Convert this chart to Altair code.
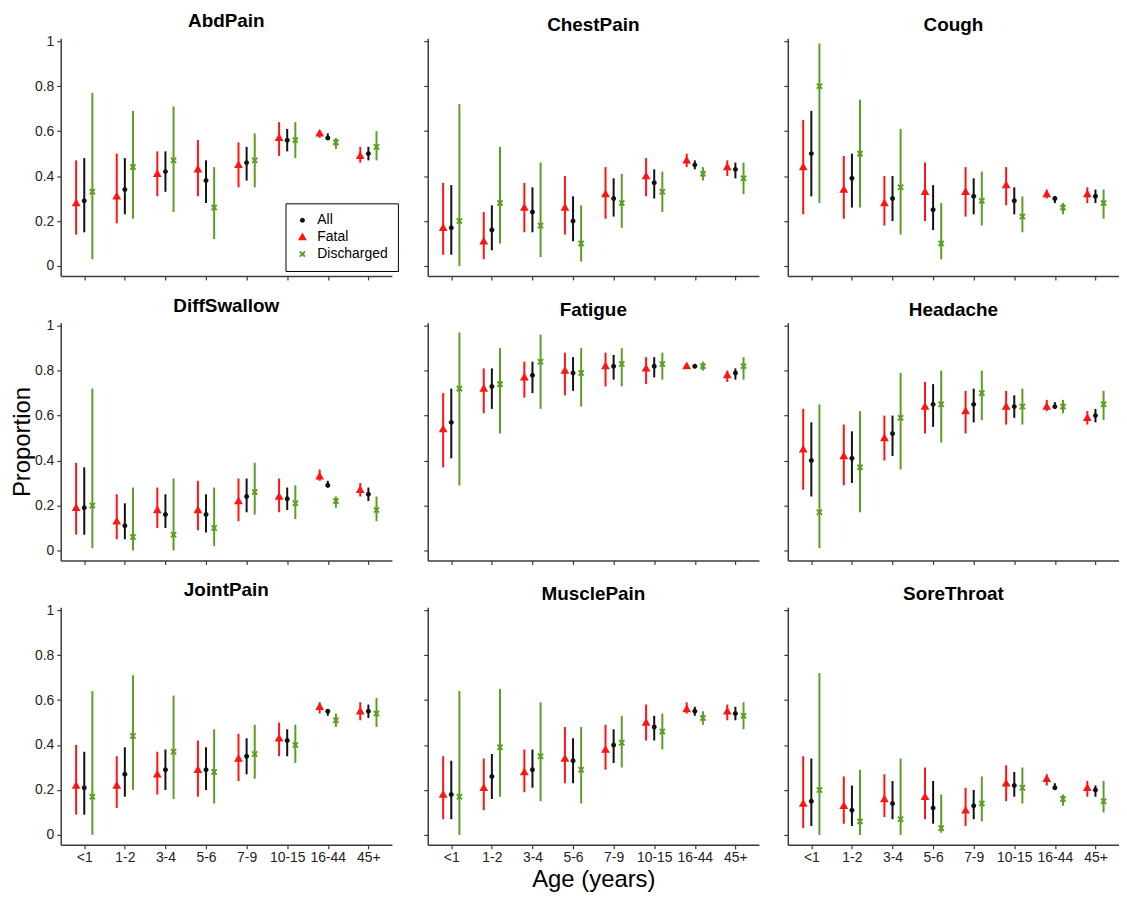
import json
import math
import altair as alt
import pandas as pd

AGES = ["<1", "1-2", "3-4", "5-6", "7-9", "10-15", "16-44", "45+"]
GROUPS = ["All", "Fatal", "Discharged"]
SYMPTOMS = ["AbdPain", "ChestPain", "Cough", "DiffSwallow", "Fatigue",
            "Headache", "JointPain", "MusclePain", "SoreThroat"]

# (estimate, lower, upper) for each age group
abdpain_all = [(0.29, 0.15, 0.48), (0.34, 0.23, 0.48), (0.42, 0.33, 0.51), (0.38, 0.28, 0.47),
               (0.46, 0.38, 0.53), (0.56, 0.51, 0.61), (0.57, 0.56, 0.59), (0.50, 0.47, 0.53)]
abdpain_fatal = [(0.28, 0.14, 0.47), (0.31, 0.19, 0.50), (0.41, 0.31, 0.51), (0.43, 0.31, 0.56),
                 (0.45, 0.35, 0.55), (0.57, 0.49, 0.64), (0.59, 0.57, 0.60), (0.49, 0.46, 0.53)]
abdpain_disch = [(0.33, 0.03, 0.77), (0.44, 0.21, 0.69), (0.47, 0.24, 0.71), (0.26, 0.12, 0.44),
                 (0.47, 0.35, 0.59), (0.56, 0.48, 0.64), (0.55, 0.52, 0.57), (0.53, 0.47, 0.60)]

chestpain_all = [(0.17, 0.05, 0.36), (0.16, 0.07, 0.27), (0.24, 0.15, 0.35), (0.20, 0.11, 0.31),
                 (0.30, 0.22, 0.39), (0.37, 0.30, 0.43), (0.45, 0.43, 0.47), (0.43, 0.39, 0.46)]
chestpain_fatal = [(0.17, 0.05, 0.37), (0.11, 0.03, 0.24), (0.26, 0.15, 0.37), (0.26, 0.14, 0.40),
                   (0.32, 0.21, 0.44), (0.40, 0.31, 0.48), (0.47, 0.44, 0.50), (0.44, 0.40, 0.47)]
chestpain_disch = [(0.20, 0.00, 0.72), (0.28, 0.10, 0.53), (0.18, 0.04, 0.46), (0.10, 0.02, 0.27),
                   (0.28, 0.17, 0.41), (0.33, 0.24, 0.42), (0.41, 0.38, 0.44), (0.39, 0.32, 0.46)]

cough_all = [(0.50, 0.31, 0.69), (0.39, 0.26, 0.50), (0.30, 0.20, 0.40), (0.25, 0.16, 0.36),
             (0.31, 0.23, 0.39), (0.29, 0.23, 0.35), (0.30, 0.28, 0.31), (0.31, 0.28, 0.34)]
cough_fatal = [(0.44, 0.23, 0.65), (0.34, 0.21, 0.49), (0.28, 0.18, 0.40), (0.33, 0.20, 0.46),
               (0.33, 0.22, 0.44), (0.36, 0.27, 0.44), (0.32, 0.30, 0.34), (0.32, 0.28, 0.35)]
cough_disch = [(0.80, 0.28, 0.99), (0.50, 0.26, 0.74), (0.35, 0.14, 0.61), (0.10, 0.03, 0.28),
               (0.29, 0.18, 0.42), (0.22, 0.15, 0.31), (0.26, 0.23, 0.28), (0.28, 0.21, 0.34)]

diffswallow_all = [(0.19, 0.07, 0.37), (0.11, 0.05, 0.21), (0.16, 0.10, 0.25), (0.16, 0.08, 0.25),
                   (0.24, 0.17, 0.32), (0.23, 0.18, 0.28), (0.29, 0.28, 0.31), (0.25, 0.22, 0.28)]
diffswallow_fatal = [(0.19, 0.07, 0.39), (0.13, 0.05, 0.25), (0.18, 0.10, 0.28), (0.18, 0.09, 0.31),
                     (0.22, 0.13, 0.32), (0.24, 0.17, 0.32), (0.33, 0.31, 0.36), (0.27, 0.24, 0.30)]
diffswallow_disch = [(0.20, 0.01, 0.72), (0.06, 0.00, 0.28), (0.07, 0.00, 0.32), (0.10, 0.02, 0.28),
                     (0.26, 0.16, 0.39), (0.21, 0.14, 0.29), (0.22, 0.19, 0.24), (0.18, 0.13, 0.24)]

fatigue_all = [(0.57, 0.41, 0.72), (0.73, 0.63, 0.81), (0.78, 0.70, 0.84), (0.79, 0.71, 0.86),
               (0.82, 0.76, 0.87), (0.82, 0.77, 0.86), (0.82, 0.81, 0.83), (0.79, 0.76, 0.81)]
fatigue_fatal = [(0.54, 0.37, 0.70), (0.72, 0.61, 0.81), (0.77, 0.68, 0.84), (0.80, 0.69, 0.88),
                 (0.82, 0.73, 0.88), (0.81, 0.74, 0.86), (0.82, 0.81, 0.83), (0.78, 0.75, 0.80)]
fatigue_disch = [(0.72, 0.29, 0.97), (0.74, 0.52, 0.90), (0.84, 0.63, 0.96), (0.79, 0.64, 0.90),
                 (0.83, 0.73, 0.90), (0.83, 0.76, 0.88), (0.82, 0.80, 0.84), (0.82, 0.76, 0.86)]

headache_all = [(0.40, 0.24, 0.57), (0.41, 0.30, 0.53), (0.52, 0.42, 0.60), (0.65, 0.55, 0.74),
                (0.65, 0.57, 0.72), (0.64, 0.59, 0.69), (0.64, 0.63, 0.66), (0.60, 0.57, 0.63)]
headache_fatal = [(0.45, 0.27, 0.63), (0.42, 0.29, 0.56), (0.50, 0.40, 0.60), (0.64, 0.52, 0.75),
                  (0.62, 0.52, 0.71), (0.64, 0.56, 0.71), (0.64, 0.62, 0.67), (0.59, 0.56, 0.62)]
headache_disch = [(0.17, 0.01, 0.65), (0.37, 0.17, 0.62), (0.59, 0.36, 0.79), (0.65, 0.48, 0.80),
                  (0.70, 0.58, 0.80), (0.64, 0.56, 0.72), (0.64, 0.61, 0.67), (0.65, 0.58, 0.71)]

jointpain_all = [(0.21, 0.09, 0.37), (0.27, 0.17, 0.39), (0.29, 0.20, 0.38), (0.29, 0.20, 0.39),
                 (0.35, 0.27, 0.43), (0.42, 0.35, 0.47), (0.55, 0.53, 0.56), (0.55, 0.52, 0.58)]
jointpain_fatal = [(0.22, 0.09, 0.40), (0.22, 0.12, 0.35), (0.27, 0.18, 0.37), (0.29, 0.17, 0.42),
                   (0.34, 0.24, 0.45), (0.43, 0.35, 0.50), (0.57, 0.54, 0.59), (0.55, 0.51, 0.59)]
jointpain_disch = [(0.17, 0.00, 0.64), (0.44, 0.20, 0.71), (0.37, 0.16, 0.62), (0.28, 0.14, 0.47),
                   (0.36, 0.25, 0.49), (0.40, 0.32, 0.49), (0.51, 0.48, 0.54), (0.54, 0.48, 0.61)]

musclepain_all = [(0.18, 0.07, 0.33), (0.26, 0.16, 0.36), (0.29, 0.21, 0.38), (0.33, 0.23, 0.43),
                  (0.40, 0.32, 0.47), (0.48, 0.42, 0.53), (0.55, 0.53, 0.57), (0.54, 0.51, 0.57)]
musclepain_fatal = [(0.18, 0.07, 0.35), (0.21, 0.11, 0.34), (0.28, 0.19, 0.38), (0.34, 0.23, 0.48),
                    (0.38, 0.29, 0.49), (0.50, 0.42, 0.58), (0.56, 0.54, 0.59), (0.55, 0.51, 0.58)]
musclepain_disch = [(0.17, 0.00, 0.64), (0.39, 0.17, 0.65), (0.35, 0.15, 0.59), (0.29, 0.14, 0.48),
                    (0.41, 0.30, 0.53), (0.46, 0.38, 0.54), (0.52, 0.49, 0.55), (0.53, 0.47, 0.59)]

sorethroat_all = [(0.15, 0.04, 0.34), (0.11, 0.04, 0.22), (0.14, 0.07, 0.24), (0.12, 0.05, 0.24),
                  (0.13, 0.07, 0.20), (0.22, 0.17, 0.28), (0.21, 0.20, 0.23), (0.20, 0.17, 0.22)]
sorethroat_fatal = [(0.14, 0.03, 0.35), (0.13, 0.05, 0.26), (0.16, 0.08, 0.27), (0.17, 0.07, 0.30),
                    (0.11, 0.04, 0.21), (0.23, 0.15, 0.31), (0.25, 0.22, 0.27), (0.21, 0.17, 0.24)]
sorethroat_disch = [(0.20, 0.00, 0.72), (0.06, 0.00, 0.29), (0.07, 0.00, 0.34), (0.03, 0.01, 0.18),
                    (0.14, 0.06, 0.26), (0.21, 0.14, 0.30), (0.16, 0.13, 0.18), (0.15, 0.10, 0.24)]

SERIES = {
    "AbdPain": (abdpain_all, abdpain_fatal, abdpain_disch),
    "ChestPain": (chestpain_all, chestpain_fatal, chestpain_disch),
    "Cough": (cough_all, cough_fatal, cough_disch),
    "DiffSwallow": (diffswallow_all, diffswallow_fatal, diffswallow_disch),
    "Fatigue": (fatigue_all, fatigue_fatal, fatigue_disch),
    "Headache": (headache_all, headache_fatal, headache_disch),
    "JointPain": (jointpain_all, jointpain_fatal, jointpain_disch),
    "MusclePain": (musclepain_all, musclepain_fatal, musclepain_disch),
    "SoreThroat": (sorethroat_all, sorethroat_fatal, sorethroat_disch),
}

rows = []
for sym in SYMPTOMS:
    for grp, vals in zip(GROUPS, SERIES[sym]):
        for i, (est, lo, hi) in enumerate(vals):
            rows.append({"symptom": sym, "group": grp, "age": AGES[i], "age_idx": i,
                         "est": est, "lo": lo, "hi": hi})
df = pd.DataFrame(rows)

# ---- styling ----
FONT = "Liberation Sans"
RED = "#ff1414"
GREEN = "#5a9e23"
BLACK = "#111111"
GROUP_COLORS = {"All": BLACK, "Fatal": RED, "Discharged": GREEN}
W, H = 333, 239

# marker shapes (unit square paths)
CIRCLE = "M0.62,0A0.62,0.62,0,1,1,-0.62,0A0.62,0.62,0,1,1,0.62,0Z"
TRIANGLE = "M0,-1.15L1.1,0.8L-1.1,0.8Z"


def x_polygon(a=0.92, w=0.24):
    pts = [(w, -a), (w, -w), (a, -w), (a, w), (w, w), (w, a), (-w, a), (-w, w),
           (-a, w), (-a, -w), (-w, -w), (-w, -a)]
    c = 1 / math.sqrt(2)
    rot = [((x - y) * c, (x + y) * c) for x, y in pts]
    return "M" + "L".join(f"{x:.3f},{y:.3f}" for x, y in rot) + "Z"


XSHAPE = x_polygon()

# error-bar colour scale: same mapping, listed in drawing order
BAR_ORDER = ["Fatal", "All", "Discharged"]

dodge_expr = ("datum.age_idx + (datum.group == 'Fatal' ? -0.2 : "
              "(datum.group == 'Discharged' ? 0.2 : 0))")
label_expr = json.dumps(AGES).replace('"', "'") + "[round(datum.value)]"


def panel(k, sym):
    r, c = divmod(k, 3)
    color_scale = alt.Scale(domain=GROUPS, range=[GROUP_COLORS[g] for g in GROUPS])
    bar_scale = alt.Scale(domain=BAR_ORDER, range=[GROUP_COLORS[g] for g in BAR_ORDER])
    shape_scale = alt.Scale(domain=GROUPS, range=[CIRCLE, TRIANGLE, XSHAPE])
    x_axis_kw = dict(values=list(range(8)), labelExpr=label_expr, labels=(r == 2),
                     grid=False, tickSize=4, labelPadding=2, labelFontSize=14)
    y_axis_kw = dict(values=[0, 0.2, 0.4, 0.6, 0.8, 1], format="~g", labels=(c == 0),
                     grid=False, tickSize=4, labelPadding=3, labelFontSize=14)
    show_xtitle = (r == 2 and c == 1)
    if show_xtitle:
        x_axis_kw.update(title="Age (years)", titleFontSize=24, titlePadding=3)
    if c == 0:
        y_axis_kw.update(title="Proportion", titleFontSize=24, titlePadding=0,
                         titleOpacity=1 if r == 1 else 0)

    xenc = alt.X("xpos:Q", scale=alt.Scale(domain=[-0.58, 7.58], nice=False, zero=False),
                 axis=alt.Axis(**x_axis_kw),
                 **({} if show_xtitle else {"title": None}))
    yscale = alt.Scale(domain=[-0.0442, 1.0133], nice=False, zero=False)
    yaxis = alt.Axis(**y_axis_kw)
    ykw = {} if c == 0 else {"title": None}

    base = (alt.Chart(df)
            .transform_filter(alt.datum.symptom == sym)
            .transform_calculate(xpos=dodge_expr))

    rules = base.mark_rule(strokeWidth=2).encode(
        x=xenc,
        y=alt.Y("lo:Q", scale=yscale, axis=yaxis, **ykw),
        y2="hi:Q",
        stroke=alt.Stroke("group:N", scale=bar_scale, legend=None),
    )

    if k == 0:
        leg = alt.Legend(title=None, orient="none", legendX=W - 107, legendY=166,
                         strokeColor="black", fillColor="white", padding=10,
                         labelFontSize=14, labelFont=FONT, labelColor="black",
                         symbolSize=64, symbolStrokeWidth=0, symbolOpacity=1,
                         rowPadding=3, labelOffset=8)
        ckw = {"legend": leg}
    else:
        ckw = {"legend": None}

    points = base.mark_point(filled=True, size=64, opacity=1, strokeWidth=0).encode(
        x=xenc,
        y=alt.Y("est:Q", scale=yscale, axis=yaxis, **ykw),
        color=alt.Color("group:N", scale=color_scale, **ckw),
        shape=alt.Shape("group:N", scale=shape_scale, **ckw),
    )

    return alt.layer(rules, points).properties(
        width=W, height=H,
        title=alt.Title(sym, fontSize=19, fontWeight="bold", font=FONT, color="black",
                        anchor="middle", frame="group", offset=3),
    )


panels = [panel(k, s) for k, s in enumerate(SYMPTOMS)]

chart = (alt.concat(*panels, columns=3, spacing={"row": 16, "column": 24})
         .resolve_scale(color="independent", shape="independent", stroke="independent")
         .resolve_legend(color="independent", shape="independent")
         .properties(padding={"left": 2, "top": 2, "right": 0, "bottom": 0},
                     background="white")
         .configure_axis(labelFont=FONT, titleFont=FONT, labelColor="#222222",
                         titleColor="black", titleFontWeight="normal",
                         domainColor="#3c3c3c", tickColor="#3c3c3c",
                         domainWidth=1.5, tickWidth=1.2)
         .configure_view(strokeWidth=0)
         .configure_title(font=FONT))

chart.save("out.html", embed_options={"renderer": "svg", "actions": False})
